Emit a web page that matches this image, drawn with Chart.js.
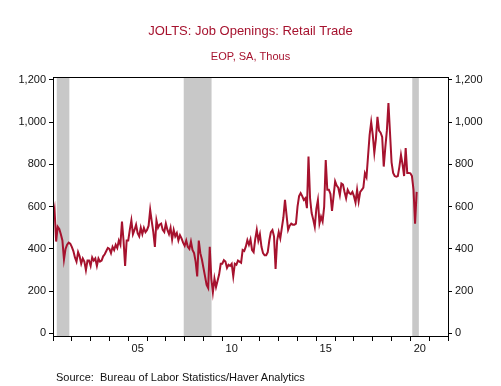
<!DOCTYPE html>
<html>
<head>
<meta charset="utf-8">
<script src="https://cdn.jsdelivr.net/npm/chart.js@4.4.1/dist/chart.umd.min.js"></script>
<style>
  html, body { margin: 0; padding: 0; background: #fff; }
  #wrap { position: relative; width: 501px; height: 386px; }
  #source {
    position: absolute; left: 56px; top: 371px;
    font: 11px Arial, "Liberation Sans", sans-serif; color: #111;
    white-space: pre;
  }
</style>
</head>
<body>
<div id="wrap">
  <canvas id="chartJolts" width="501" height="386"></canvas>
  <div id="source">Source:  Bureau of Labor Statistics/Haver Analytics</div>
</div>
<script>
// JOLTS retail job openings, monthly, thousands (Jan 2001 .. May 2020)
const startYear = 2001;
const openings = [
  540, 585, 435, 505, 495, 470, 440, 350, 400, 420, 430, 425,   // 2001
  410, 390, 360, 340, 385, 365, 330, 355, 340, 300, 345, 345,   // 2002
  320, 360, 345, 355, 320, 355, 340, 345, 365, 375, 390, 405,   // 2003
  400, 380, 410, 395, 420, 405, 440, 420, 530, 440, 320, 440,   // 2004
  440, 490, 535, 470, 490, 515, 475, 460, 500, 470, 500, 480,   // 2005
  490, 510, 585, 530, 480, 410, 535, 500, 515, 520, 490, 480,   // 2006
  520, 490, 470, 500, 445, 490, 460, 475, 440, 465, 450, 430,   // 2007
  415, 440, 410, 400, 435, 395, 380, 340, 270, 440, 380, 350,   // 2008
  310, 270, 230, 215, 410, 260, 195, 260, 220, 250, 280, 330,   // 2009
  330, 347, 340, 310, 325, 320, 330, 270, 330, 325, 345, 340,   // 2010
  335, 395, 390, 411, 442, 420, 445, 395, 385, 445, 490, 440,   // 2011
  470, 410, 380, 370, 370, 385, 440, 480, 490, 460, 305, 440,   // 2012
  480, 450, 500, 550, 632, 560, 490, 510, 520, 515, 515, 520,   // 2013
  600, 650, 664, 650, 632, 640, 593, 837, 640, 570, 540, 505,   // 2014
  590, 632, 521, 553, 530, 600, 821, 680, 680, 660, 580, 650,   // 2015
  720, 700, 690, 655, 710, 705, 670, 640, 680, 665, 660, 670,   // 2016
  650, 620, 680, 625, 670, 680, 690, 758, 740, 840, 940, 1000,  // 2017
  940, 855, 920, 1025, 960, 950, 930, 790, 880, 960, 1090, 950, // 2018
  810, 760, 745, 742, 745, 790, 845, 800, 745, 877, 760, 760,   // 2019
  758, 745, 680, 520, 670                                       // 2020
];

// recession shading (fractional years)
const recessionStart = [2001.2, 2007.95, 2020.1];
const recessionEnd   = [2001.87, 2009.43, 2020.45];

const yTicks = [0, 200, 400, 600, 800, 1000, 1200];
const yearLabels = { 2005: '05', 2010: '10', 2015: '15', 2020: '20' };
const xMin = 2001, xMax = 2022;

const RED = '#a6122e';
Chart.defaults.font.family = 'Arial, "Liberation Sans", sans-serif';
Chart.defaults.color = '#111';

const points = openings.map((v, i) => ({ x: startYear + i / 12, y: v }));

const recessionPlugin = {
  id: 'recessions',
  beforeDatasetsDraw(chart) {
    const { ctx, chartArea, scales } = chart;
    ctx.save();
    ctx.fillStyle = '#c8c8c8';
    recessionStart.forEach((s, i) => {
      const x0 = scales.x.getPixelForValue(s);
      const x1 = scales.x.getPixelForValue(recessionEnd[i]);
      ctx.fillRect(x0, chartArea.top, x1 - x0, chartArea.bottom - chartArea.top);
    });
    ctx.restore();
  }
};

const framePlugin = {
  id: 'frame',
  afterDraw(chart) {
    const { ctx, chartArea } = chart;
    ctx.save();
    ctx.strokeStyle = '#000';
    ctx.lineWidth = 1;
    ctx.strokeRect(Math.round(chartArea.left) + 0.5, Math.round(chartArea.top) + 0.5,
      Math.round(chartArea.right - chartArea.left), Math.round(chartArea.bottom - chartArea.top));
    ctx.restore();
  }
};

function yAxis(position) {
  return {
    position: position,
    min: -12,
    max: 1212,
    afterBuildTicks: (axis) => { axis.ticks = yTicks.map(v => ({ value: v })); },
    afterFit: (axis) => { axis.width = 53; },
    border: { display: false },
    grid: { drawOnChartArea: false, drawTicks: true, tickLength: 4, color: '#000' },
    ticks: {
      padding: 3,
      font: { size: 11 },
      color: '#111',
      callback: (v) => v.toLocaleString('en-US')
    }
  };
}

new Chart(document.getElementById('chartJolts'), {
  type: 'line',
  data: {
    datasets: [{
      label: 'Job Openings: Retail Trade',
      data: points,
      borderColor: RED,
      borderWidth: 2,
      pointRadius: 0,
      tension: 0,
      fill: false
    }]
  },
  options: {
    responsive: false,
    animation: false,
    devicePixelRatio: 1,
    layout: { padding: 0 },
    scales: {
      x: {
        type: 'linear',
        min: xMin,
        max: xMax,
        afterBuildTicks: (axis) => {
          const t = [];
          for (let y = xMin; y <= xMax; y++) t.push({ value: y });
          axis.ticks = t;
        },
        afterFit: (axis) => { axis.height = 50; },
        border: { display: false },
        grid: { drawOnChartArea: false, drawTicks: true, tickLength: 5, color: '#000' },
        ticks: {
          autoSkip: false,
          maxRotation: 0,
          padding: 1,
          labelOffset: 9.4,
          font: { size: 11 },
          color: '#111',
          callback: (v) => yearLabels[v] || ''
        }
      },
      y: yAxis('left'),
      y2: yAxis('right')
    },
    plugins: {
      legend: { display: false },
      tooltip: { enabled: false },
      title: {
        display: true,
        text: 'JOLTS: Job Openings: Retail Trade',
        color: RED,
        font: { size: 13, weight: 'normal' },
        padding: { top: 24, bottom: 8 }
      },
      subtitle: {
        display: true,
        text: 'EOP, SA, Thous',
        color: RED,
        font: { size: 11, weight: 'normal' },
        padding: { top: 2.6, bottom: 14 }
      }
    }
  },
  plugins: [recessionPlugin, framePlugin]
});
</script>
</body>
</html>
